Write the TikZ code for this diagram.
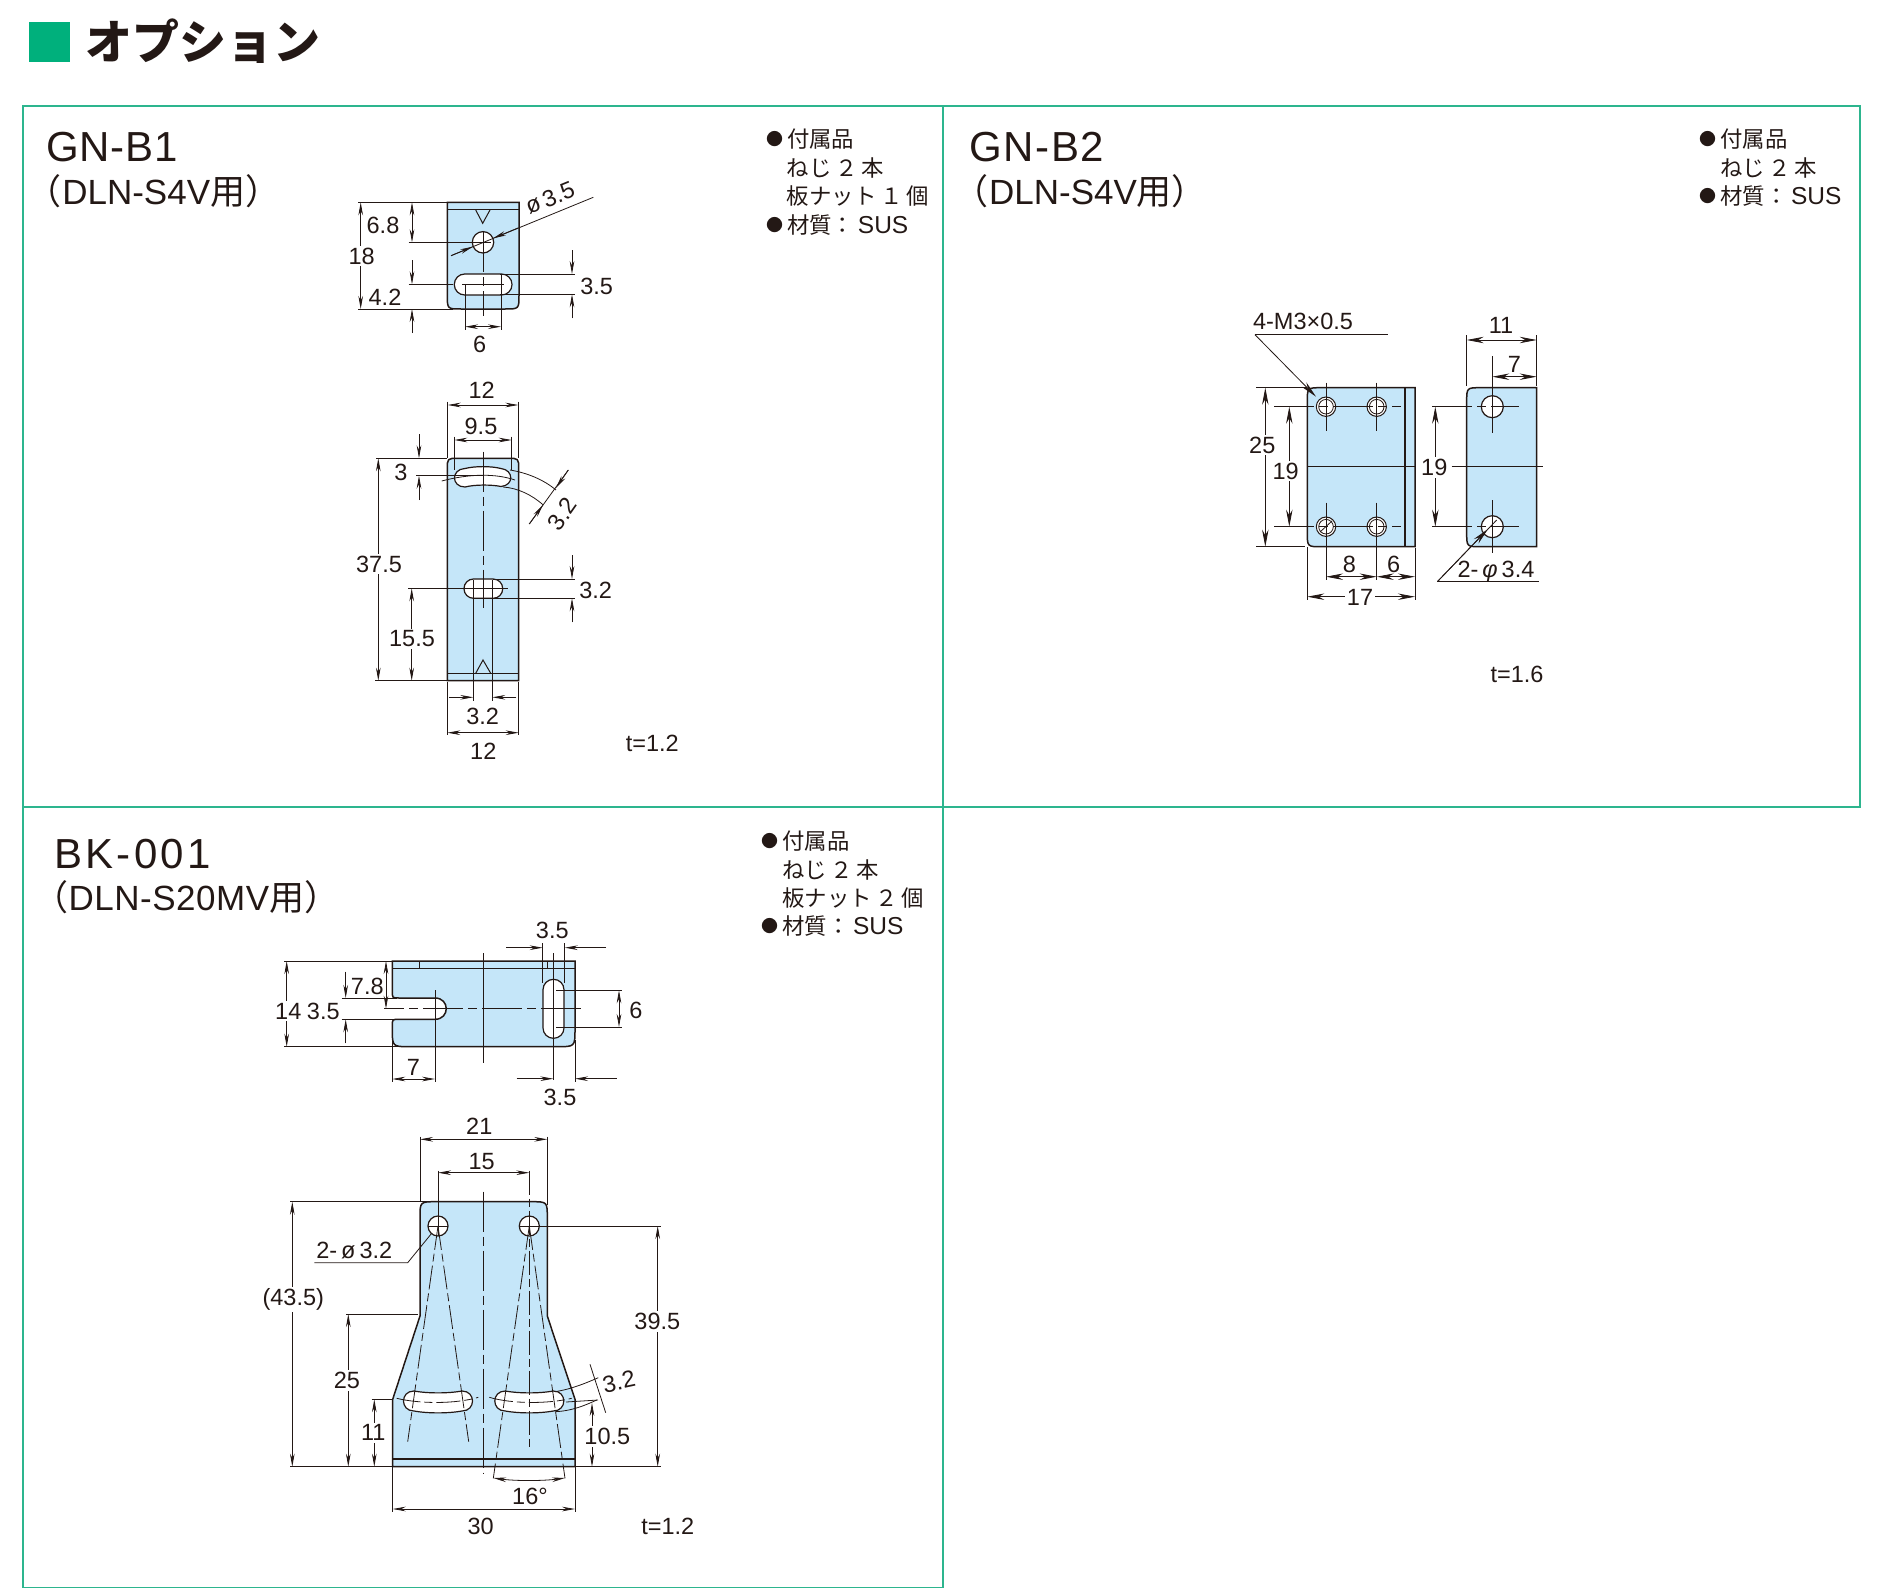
\documentclass[tikz,border=0pt]{standalone}
\usepackage{fontspec}
\setmainfont{Liberation Sans}
\newfontfamily\cjk{Noto Sans CJK JP}
\usetikzlibrary{arrows.meta}
\definecolor{framegreen}{HTML}{2DB58E}
\definecolor{headgreen}{HTML}{00B07C}
\definecolor{plateblue}{HTML}{C5E6F9}
\definecolor{inkblack}{HTML}{231815}
\newcommand{\notedot}{\raisebox{2pt}{\fontsize{17}{17}\selectfont ●}\hspace{4pt}}
\newcommand{\notesus}{\,{\rmfamily\fontsize{24.5}{24}\selectfont SUS}}
\tikzset{
  plate/.style={fill=plateblue,draw=inkblack,line width=1.5pt},
  hole/.style={fill=white,draw=inkblack,line width=1.2pt},
  dim/.style={draw=inkblack,line width=.8pt},
  bigdim/.style={dim,>={Stealth[length=17pt,width=6.4pt]}},
  cline/.style={draw=inkblack,line width=.8pt,dash pattern=on 40pt off 5pt on 9pt off 5pt},
  rayline/.style={cline,dash pattern=on 24pt off 4pt on 8pt off 4pt},
  lbl/.style={text=inkblack,inner sep=0pt,font=\fontsize{23.5}{24}\selectfont},
  gaplbl/.style={lbl,fill=white,inner sep=2pt},
  notes/.style={text=inkblack,inner sep=0pt,anchor=west,font=\fontsize{22.4}{24}\selectfont\cjk},
  model/.style={text=inkblack,inner sep=0pt,anchor=west,font=\fontsize{42}{44}\selectfont},
  forwhat/.style={text=inkblack,inner sep=0pt,anchor=west,font=\fontsize{35}{36}\selectfont}
}
\begin{document}
\begin{tikzpicture}[x=1pt,y=-1pt,>={Stealth[length=13pt,width=4.6pt]}]
\useasboundingbox (0,0) rectangle (1883,1595);
\fill[headgreen] (29.3,21.7) rectangle (70.3,62.3);
\node[text=inkblack,inner sep=0pt,anchor=west,font=\fontsize{47}{48}\selectfont\cjk\bfseries] (heading) at (85,41) {オプション};
\draw[framegreen,line width=1.6pt] (23,105.7)--(1860,105.7)--(1860,806.7)--(23,806.7)--cycle;
\draw[framegreen,line width=1.6pt] (943,105.7)--(943,1587.3)--(23,1587.3)--(23,806.7);

\node[model] (gnbone) at (46,146.7) {\addfontfeature{LetterSpace=2}GN-B1};
\node[forwhat] (gnbonefor) at (26.7,191) {\cjk（};
\node[forwhat,anchor=west] (gnbonetxt) at (gnbonefor.east) {DLN-S4V{\cjk 用）}};
\node[notes] (noteaa) at (765.8,139.5) {\notedot 付属品};
\node[notes] (noteab) at (786.7,168) {ねじ\,２\,本};
\node[notes] (noteac) at (786.7,196) {板ナット\,１\,個};
\node[notes] (notead) at (765.8,225) {\notedot 材質：\notesus};

\filldraw[plate] (447.3,202.3)--(519,202.3)--(519,295) .. controls (519,309) .. (505,309)--(461.3,309) .. controls (447.3,309) .. (447.3,295)--cycle;
\draw[line width=1.2pt,inkblack] (447.3,209.3)--(519,209.3);
\draw[line width=1pt,inkblack] (475.7,210)--(482.7,223.3)--(490,210);
\filldraw[hole] (483,242.3) circle (10.7pt);
\filldraw[hole,rounded corners=10.4pt] (454.3,274) rectangle (512,295);
\draw[cline] (483,232)--(483,316);
\draw[dim] (475,242.3)--(491,242.3);
\draw[dim] (462.3,284.3)--(504,284.3);
\draw[dim] (358,202.3)--(447,202.3);
\draw[dim] (358,309)--(453,309);
\draw[dim] (408.7,242.3)--(483,242.3);
\draw[dim] (408.7,284.3)--(453,284.3);
\draw[dim,<->] (360.7,202.3)--(360.7,309);
\node[gaplbl] (dimaa) at (361.7,256) {18};
\draw[dim,<->] (412,202.3)--(412,242.3);
\node[lbl] (dimab) at (383,225) {6.8};
\draw[dim,->] (412,260)--(412,284.3);
\draw[dim,->] (412,333)--(412,309);
\node[lbl] (dimac) at (385,297.3) {4.2};
\draw[dim] (500,274)--(575,274);
\draw[dim] (500,294.3)--(575,294.3);
\draw[dim,->] (572,250)--(572,274);
\draw[dim,->] (572,318.3)--(572,294.3);
\node[lbl] (dimad) at (596.7,286) {3.5};
\draw[dim] (465,284)--(465,330);
\draw[dim] (501,274)--(501,330);
\draw[dim,<->] (465,326.7)--(501,326.7);
\node[lbl] (dimae) at (479.7,344) {6};
\draw[dim] (451,255.7)--(593.3,197.3);
\draw[dim,->] (451,255.7)--(473,246.6);
\draw[dim,->] (518,228)--(493,238.3);
\node[lbl,rotate=22] (dimaf) at (550,198) {ø\,3.5};

\filldraw[plate] (447.3,469.3) .. controls (447.3,458.3) .. (458.3,458.3)--(507.7,458.3) .. controls (518.7,458.3) .. (518.7,469.3)--(518.7,680.7)--(447.3,680.7)--cycle;
\draw[line width=1.2pt,inkblack] (447.3,673.3)--(518.7,673.3);
\draw[line width=1pt,inkblack] (475.7,673.3)--(483,660)--(490.7,673.3);
\filldraw[hole] (465,468.5) .. controls (475,466) and (491,466) .. (501,468.5) .. controls (514,470) and (514,485.5) .. (501,486.5) .. controls (491,484.5) and (475,484.5) .. (465,487) .. controls (451,487) and (451,469) .. (465,468.5)--cycle;
\filldraw[hole,rounded corners=9.5pt] (464,579) rectangle (502.7,598.3);
\draw[cline] (483,451.7)--(483,608);
\draw[dim] (441.7,481) .. controls (470,473.5) and (496,473.5) .. (515,480);
\draw[dim] (464,588.6)--(507.7,588.6);
\draw[dim] (376,458.3)--(447.3,458.3);
\draw[dim] (375,680.7)--(447.3,680.7);
\draw[dim] (416,475.7)--(483,475.7);
\draw[dim] (408,588.3)--(464,588.3);
\draw[dim,<->] (378.3,458.3)--(378.3,680.7);
\node[gaplbl] (dimba) at (379,564) {37.5};
\draw[dim,->] (419,434)--(419,458.3);
\draw[dim,->] (419,500)--(419,475.7);
\node[lbl] (dimbb) at (401,472.3) {3};
\draw[dim,<->] (411.7,588.3)--(411.7,680.7);
\node[gaplbl] (dimbc) at (412,639) {15.5};
\draw[dim] (447.7,401.7)--(447.7,458);
\draw[dim] (518.3,401.7)--(518.3,458);
\draw[dim,<->] (447.7,405)--(518.3,405);
\node[lbl] (dimbd) at (481.7,390) {12};
\draw[dim] (454.3,436.7)--(454.3,470);
\draw[dim] (511.7,436.7)--(511.7,470);
\draw[dim,<->] (454.3,440)--(511.7,440);
\node[lbl] (dimbe) at (481,426) {9.5};
\draw[dim] (493,579)--(575,579);
\draw[dim] (493,598.3)--(575,598.3);
\draw[dim,->] (572,555)--(572,579);
\draw[dim,->] (572,622.3)--(572,598.3);
\node[lbl] (dimbf) at (595.7,590) {3.2};
\draw[dim] (473.3,580)--(473.3,700.7);
\draw[dim] (492.3,580)--(492.3,700.7);
\draw[dim,->] (449.3,697.3)--(473.3,697.3);
\draw[dim,->] (516.3,697.3)--(492.3,697.3);
\node[lbl] (dimbg) at (482.7,716) {3.2};
\draw[dim] (447.3,681.7)--(447.3,735);
\draw[dim] (518.7,681.7)--(518.7,735);
\draw[dim,<->] (447.3,732.7)--(518.7,732.7);
\node[lbl] (dimbh) at (483.3,751.7) {12};
\draw[dim] (510,470) .. controls (528,473) and (544,480) .. (556,490);
\draw[dim] (503,487) .. controls (518,488) and (532,495) .. (543.3,505);
\draw[dim] (568.3,470)--(529.3,524);
\draw[dim,->] (568.3,470)--(556,488);
\draw[dim,->] (529.3,524)--(543,505);
\node[lbl,rotate=55] (dimbi) at (562.3,514) {3.2};
\node[lbl] (thicka) at (652.3,743.3) {t=1.2};

\node[model] (gnbtwo) at (969,146.7) {\addfontfeature{LetterSpace=4}GN-B2};
\node[forwhat] (gnbtwofor) at (953.5,191) {\cjk（};
\node[forwhat,anchor=west] (gnbtwotxt) at (gnbtwofor.east) {DLN-S4V{\cjk 用）}};
\node[notes] (noteba) at (1699,139.5) {\notedot 付属品};
\node[notes] (notebb) at (1720,168) {ねじ\,２\,本};
\node[notes] (notebc) at (1699,196) {\notedot 材質：\notesus};

\filldraw[plate] (1321.3,387.7)--(1415,387.7)--(1415,546.7)--(1321.3,546.7) .. controls (1307.3,546.7) .. (1307.3,532.7)--(1307.3,401.7) .. controls (1307.3,387.7) .. (1321.3,387.7)--cycle;
\draw[line width=1.2pt,inkblack] (1405,387.7)--(1405,546.7);
\draw[dim] (1307.3,466.7)--(1415,466.7);
\foreach \hx/\hy in {1326/406.7,1376.7/406.7,1326/526.7,1376.7/526.7}{
  \filldraw[hole,line width=1pt] (\hx,\hy) circle (9.7pt);
  \draw[dim] (\hx,\hy) circle (7.3pt);
}
\draw[cline] (1274,406.7)--(1400.7,406.7);
\draw[cline] (1274,526.7)--(1400.7,526.7);
\draw[dim] (1326,382.7)--(1326,430.7);
\draw[dim] (1376.7,382.7)--(1376.7,430.7);
\draw[dim] (1326,502.7)--(1326,580);
\draw[dim] (1376.7,502.7)--(1376.7,580);
\draw[dim] (1320,532)--(1332,521);
\node[lbl] (dimca) at (1303,321.7) {4-M3×0.5};
\draw[dim] (1255,334.7)--(1387.7,334.7);
\draw[bigdim,->] (1255,334.7)--(1316,396.7);
\draw[dim] (1256,387.7)--(1307.3,387.7);
\draw[dim] (1256,546.7)--(1305,546.7);
\draw[bigdim,<->] (1265.3,387.7)--(1265.3,546.7);
\node[gaplbl] (dimcb) at (1262.3,445) {25};
\draw[bigdim,<->] (1289.3,406.7)--(1289.3,526.7);
\node[gaplbl] (dimcc) at (1285.7,471) {19};
\draw[dim] (1415,548)--(1415,600);
\draw[dim] (1307.3,547)--(1307.3,600);
\draw[bigdim,<->] (1326,576.7)--(1376.7,576.7);
\draw[bigdim,<->] (1376.7,576.7)--(1415,576.7);
\node[lbl] (dimcd) at (1349.3,564.3) {8};
\node[lbl] (dimce) at (1393.7,564.3) {6};
\draw[bigdim,<->] (1307.3,596.7)--(1415,596.7);
\node[gaplbl] (dimcf) at (1360,597.7) {17};

\filldraw[plate] (1480.7,387.7)--(1536.7,387.7)--(1536.7,546.7)--(1480.7,546.7) .. controls (1466.7,546.7) .. (1466.7,532.7)--(1466.7,401.7) .. controls (1466.7,387.7) .. (1480.7,387.7)--cycle;
\filldraw[hole] (1492.3,406.7) circle (11pt);
\filldraw[hole] (1492.3,526.7) circle (11pt);
\draw[cline] (1432.3,406.7)--(1519.3,406.7);
\draw[cline] (1432.3,526.7)--(1519.3,526.7);
\draw[dim] (1492.3,356)--(1492.3,433.3);
\draw[dim] (1492.3,500)--(1492.3,553.3);
\draw[dim] (1451.7,466.7)--(1543.3,466.7);
\draw[dim] (1466.7,335)--(1466.7,386);
\draw[dim] (1536.7,335)--(1536.7,386);
\draw[bigdim,<->] (1466.7,340)--(1536.7,340);
\node[lbl] (dimda) at (1501,325) {11};
\draw[bigdim,<->] (1492.3,376.7)--(1536.7,376.7);
\node[lbl] (dimdb) at (1514.3,364) {7};
\draw[bigdim,<->] (1435.3,406.7)--(1435.3,526.7);
\node[gaplbl] (dimdc) at (1434.3,467.7) {19};
\node[lbl] (dimdd) at (1496,571.5) {2-\,{\itshape φ}\,3.4};
\draw[dim] (1437.3,581.7)--(1539.3,581.7);
\draw[dim] (1437.3,581.7)--(1496.7,520);
\draw[bigdim,->] (1437.3,581.7)--(1488,529);
\node[lbl] (thickb) at (1517,674) {t=1.6};

\node[model] (bkzero) at (54,854) {\addfontfeature{LetterSpace=8}BK-001};
\node[forwhat] (bkzerofor) at (33,897.5) {\cjk（};
\node[forwhat,anchor=west] (bkzerotxt) at (bkzerofor.east) {\addfontfeature{LetterSpace=1.5}DLN-S20MV{\cjk 用）}};
\node[notes] (noteca) at (761,841) {\notedot 付属品};
\node[notes] (notecb) at (782,870) {ねじ\,２\,本};
\node[notes] (notecc) at (782,898.4) {板ナット\,２\,個};
\node[notes] (notecd) at (761,926) {\notedot 材質：\notesus};

\filldraw[plate] (392.3,961)--(575,961)--(575,1029) .. controls (575,1046.7) .. (557,1046.7)--(410,1046.7) .. controls (392.3,1046.7) .. (392.3,1029)--(392.3,1026) .. controls (392.3,1019.3) .. (399,1019.3)--(435,1019.3) .. controls (450,1019.3) and (450,998) .. (435,998)--(399,998) .. controls (392.3,998) .. (392.3,991)--cycle;
\draw[line width=1.2pt,inkblack] (392.3,968.7)--(575,968.7);
\draw[line width=1.2pt,inkblack] (419.3,961)--(419.3,968.7);
\draw[line width=1.2pt,inkblack] (547.3,961)--(547.3,968.7);
\filldraw[hole,rounded corners=10.4pt] (543,979.3) rectangle (564,1038.3);
\draw[cline] (580.7,1008.7)--(384,1008.7);
\draw[dim] (483.3,953.3)--(483.3,1063.3);
\draw[dim] (553.3,953.3)--(553.3,1080);
\draw[dim] (542.7,943)--(542.7,983);
\draw[dim] (564.7,943)--(564.7,983);
\draw[dim,->] (506,947.7)--(542.7,947.7);
\draw[dim,->] (606,947.7)--(564.7,947.7);
\node[lbl] (dimea) at (552.3,930.7) {3.5};
\draw[dim] (284.3,961)--(392,961);
\draw[dim] (284.3,1046.7)--(403,1046.7);
\draw[dim,<->] (286.7,961)--(286.7,1046.7);
\node[gaplbl] (dimeb) at (288.3,1011) {14};
\draw[dim,<->] (386,961)--(386,1008.7);
\node[lbl] (dimec) at (367.3,986) {7.8};
\draw[dim] (341.7,998)--(397,998);
\draw[dim] (341.7,1019.3)--(397,1019.3);
\draw[dim,->] (345.7,971.7)--(345.7,998);
\draw[dim,->] (345.7,1043.3)--(345.7,1019.3);
\node[lbl] (dimed) at (323.3,1011) {3.5};
\draw[dim] (392.3,1040)--(392.3,1081.7);
\draw[dim] (435,990)--(435,1081.7);
\draw[dim,<->] (392.3,1079)--(435,1079);
\node[lbl] (dimee) at (413.3,1067.7) {7};
\draw[dim] (556,990.3)--(621.7,990.3);
\draw[dim] (556,1027)--(621.7,1027);
\draw[dim,<->] (619,990.3)--(619,1027);
\node[lbl] (dimef) at (636,1010) {6};
\draw[dim] (575,1040)--(575,1081.7);
\draw[dim,->] (516.7,1078.7)--(553.3,1078.7);
\draw[dim,->] (616.7,1078.7)--(575,1078.7);
\node[lbl] (dimeg) at (560,1097.7) {3.5};

\filldraw[plate] (436,1201.7)--(531.3,1201.7) .. controls (547.3,1201.7) .. (547.3,1217.7)--(547.3,1310)--(547.3,1316)--(575,1399.3)--(575,1466.7)--(392.7,1466.7)--(392.7,1399.3)--(420,1316)--(420,1217.7) .. controls (420,1201.7) .. (436,1201.7)--cycle;
\draw[line width=1.2pt,inkblack] (392.7,1459)--(575,1459);
\filldraw[hole] (438,1226) circle (10pt);
\filldraw[hole] (529.3,1226) circle (10pt);
\filldraw[hole] (414,1391) .. controls (428,1393.5) and (448,1393.5) .. (462,1391) .. controls (476,1391) and (476,1411) .. (462,1411) .. controls (448,1413.5) and (428,1413.5) .. (414,1411) .. controls (400,1411) and (400,1391) .. (414,1391)--cycle;
\filldraw[hole] (505.3,1391) .. controls (519.3,1393.5) and (539.3,1393.5) .. (553.3,1391) .. controls (567.3,1391) and (567.3,1411) .. (553.3,1411) .. controls (539.3,1413.5) and (519.3,1413.5) .. (505.3,1411) .. controls (491.3,1411) and (491.3,1391) .. (505.3,1391)--cycle;
\draw[cline] (483.7,1191.7)--(483.7,1473.3);
\draw[rayline] (438,1226)--(407.7,1441.7);
\draw[rayline] (438,1226)--(468.7,1441.7);
\draw[rayline] (529.3,1226)--(493.3,1478.3);
\draw[rayline] (529.3,1226)--(565,1478.3);
\draw[rayline] (529.3,1170.7)--(529.3,1448.3);
\draw[rayline] (396.7,1398.3) .. controls (420,1404) and (456,1404) .. (478.3,1397.3);
\draw[rayline] (489.3,1397.3) .. controls (512,1404) and (548,1404) .. (571.7,1398.3);
\draw[dim] (428,1226)--(448,1226);
\draw[dim] (438,1170.7)--(438,1236);
\draw[dim] (519.3,1226)--(660.7,1226);
\draw[dim] (420,1136.7)--(420,1201);
\draw[dim] (547.3,1136.7)--(547.3,1205);
\draw[dim,<->] (420,1139.3)--(547.3,1139.3);
\node[lbl] (dimfa) at (479.3,1126.7) {21};
\draw[dim,<->] (438,1172.7)--(529.3,1172.7);
\node[lbl] (dimfb) at (481.7,1162) {15};
\draw[dim] (290,1201.7)--(432,1201.7);
\draw[dim] (290,1466.7)--(392.7,1466.7);
\draw[dim,<->] (292.3,1201.7)--(292.3,1466.7);
\node[gaplbl] (dimfc) at (293.3,1299.5) {(43.5)};
\node[lbl] (dimfd) at (354.3,1250.7) {2-\,ø\,3.2};
\draw[dim] (314.3,1262.7)--(407.7,1262.7)--(431.7,1233.3);
\draw[dim] (346,1314)--(418,1314);
\draw[dim,<->] (348.3,1314)--(348.3,1466.7);
\node[gaplbl] (dimfe) at (347,1380.7) {25};
\draw[dim] (371.7,1399.3)--(392.7,1399.3);
\draw[dim,<->] (374.3,1399.3)--(374.3,1466.7);
\node[gaplbl] (dimff) at (373.3,1432.7) {11};
\draw[dim] (575,1466.7)--(660.7,1466.7);
\draw[dim,<->] (657.7,1226)--(657.7,1466.7);
\node[gaplbl] (dimfg) at (657.3,1321.5) {39.5};
\draw[dim,->] (592,1436)--(592,1403);
\draw[dim,->] (592,1436)--(592,1466.7);
\node[gaplbl] (dimfh) at (607.3,1436.7) {10.5};
\draw[dim] (555,1391.7) .. controls (572,1389) and (586,1383) .. (598.3,1377.7);
\draw[dim] (555,1411.7) .. controls (572,1411) and (586,1405) .. (596.7,1400);
\draw[dim] (566,1402)--(598,1400);
\draw[dim] (590,1364.3)--(605.7,1412.7);
\node[lbl,rotate=12] (dimfi) at (619,1381.7) {3.2};
\draw[dim,<->] (493.3,1478) .. controls (515,1481) and (543,1481) .. (565,1478);
\node[lbl] (dimfj) at (530,1496.7) {16°};
\draw[dim] (392.7,1466.7)--(392.7,1511.7);
\draw[dim] (575,1466.7)--(575,1511.7);
\draw[dim,<->] (392.7,1509)--(575,1509);
\node[lbl] (dimfk) at (480.7,1526) {30};
\node[lbl] (thickc) at (667.8,1526) {t=1.2};
\end{tikzpicture}
\end{document}
